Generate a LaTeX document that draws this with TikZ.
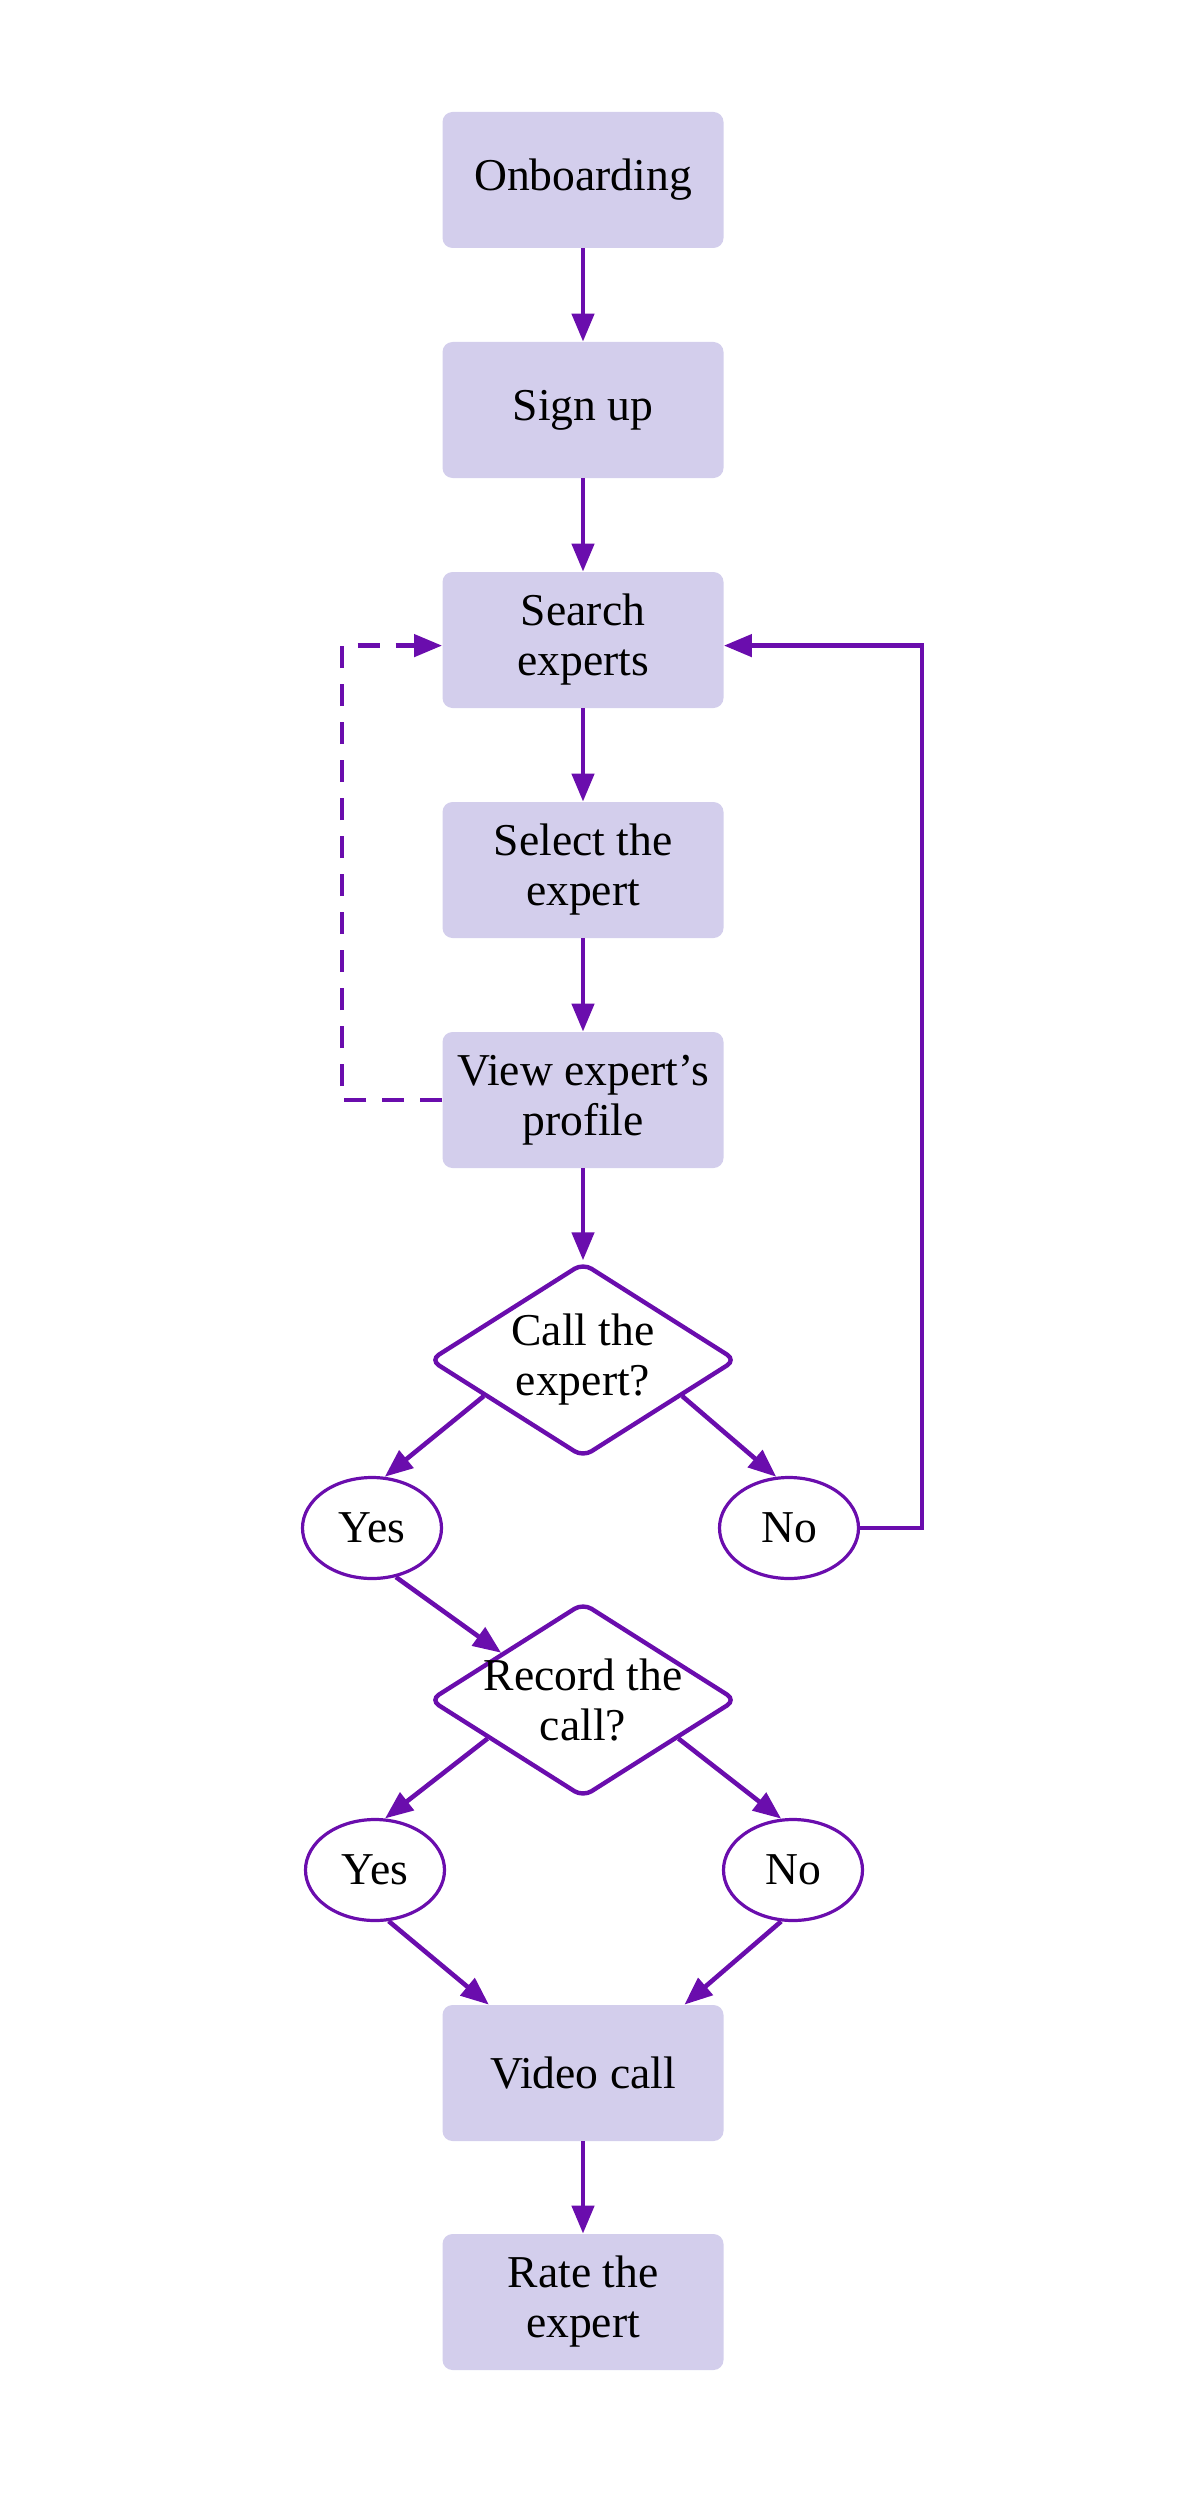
\documentclass[tikz,border=0pt]{standalone}
\usepackage{fontspec}
\setmainfont{Liberation Serif}
\usetikzlibrary{shapes.geometric,arrows.meta}
\definecolor{flowline}{RGB}{106,13,173}
\definecolor{boxfill}{RGB}{211,206,236}
\tikzset{
  labelfont/.style={font=\fontsize{22.8}{25}\selectfont},
  stepbox/.style={rectangle, rounded corners=5pt, fill=boxfill, minimum width=140.5pt,
    minimum height=68pt, inner sep=0pt, align=center, labelfont},
  question/.style={diamond, draw=flowline, line width=2.2pt, rounded corners=5pt, fill=white,
    minimum width=153.5pt, minimum height=97.5pt, inner xsep=-20pt, inner ysep=-10pt,
    align=center, labelfont},
  answer/.style={ellipse, draw=flowline, line width=1.6pt, minimum width=69.5pt,
    minimum height=50.5pt, inner sep=0pt, labelfont},
  flow/.style={draw=flowline, line width=2.3pt, -{Triangle[length=14pt,width=11pt]}}
}
\begin{document}
\begin{tikzpicture}[x=0.5pt, y=-0.5pt]
    \useasboundingbox (0,0) rectangle (1200,2504);
    % steps
    \node[stepbox] (onboard) at (583,180) {Onboarding};
    \node[stepbox] (signup) at (583,410) {Sign up};
    \node[stepbox] (search) at (583,640) {Search\\experts};
    \node[stepbox] (select) at (583,870) {Select the\\expert};
    \node[stepbox] (profile) at (583,1100) {View expert’s\\profile};
    \node[question] (callq) at (583,1360) {Call the\\expert?};
    \node[answer] (callyes) at (372,1528) {Yes};
    \node[answer] (callno) at (789,1528) {No};
    \node[question] (recq) at (583,1700) {Record the\\call?};
    \node[answer] (recyes) at (375,1870) {Yes};
    \node[answer] (recno) at (793,1870) {No};
    \node[stepbox] (video) at (583,2073) {Video call};
    \node[stepbox] (rate) at (583,2302) {Rate the\\expert};
    % straight flow
    \draw[flow] (onboard) -- (signup);
    \draw[flow] (signup) -- (search);
    \draw[flow] (search) -- (select);
    \draw[flow] (select) -- (profile);
    \draw[flow] (profile) -- (callq);
    \draw[flow] (callq.200) -- (callyes.76);
    \draw[flow] (callq.-20) -- (callno.104);
    \draw[flow] (callyes.-64) -- (recq.150);
    \draw[flow] (recq.202) -- (recyes.79);
    \draw[flow] (recq.-22) -- (recno.103);
    \draw[flow] (recyes.-75) -- (video.144);
    \draw[flow] (recno.-103) -- (video.34);
    \draw[flow] (video) -- (rate);
    % loops back to search
    \draw[flow, dash pattern=on 11pt off 8pt] (profile.west) -- (342,1100) |- ([yshift=-2.8pt]search.west);
    \draw[flow] (callno.east) -- (922,1528) |- ([yshift=-2.8pt]search.east);
\end{tikzpicture}
\end{document}
